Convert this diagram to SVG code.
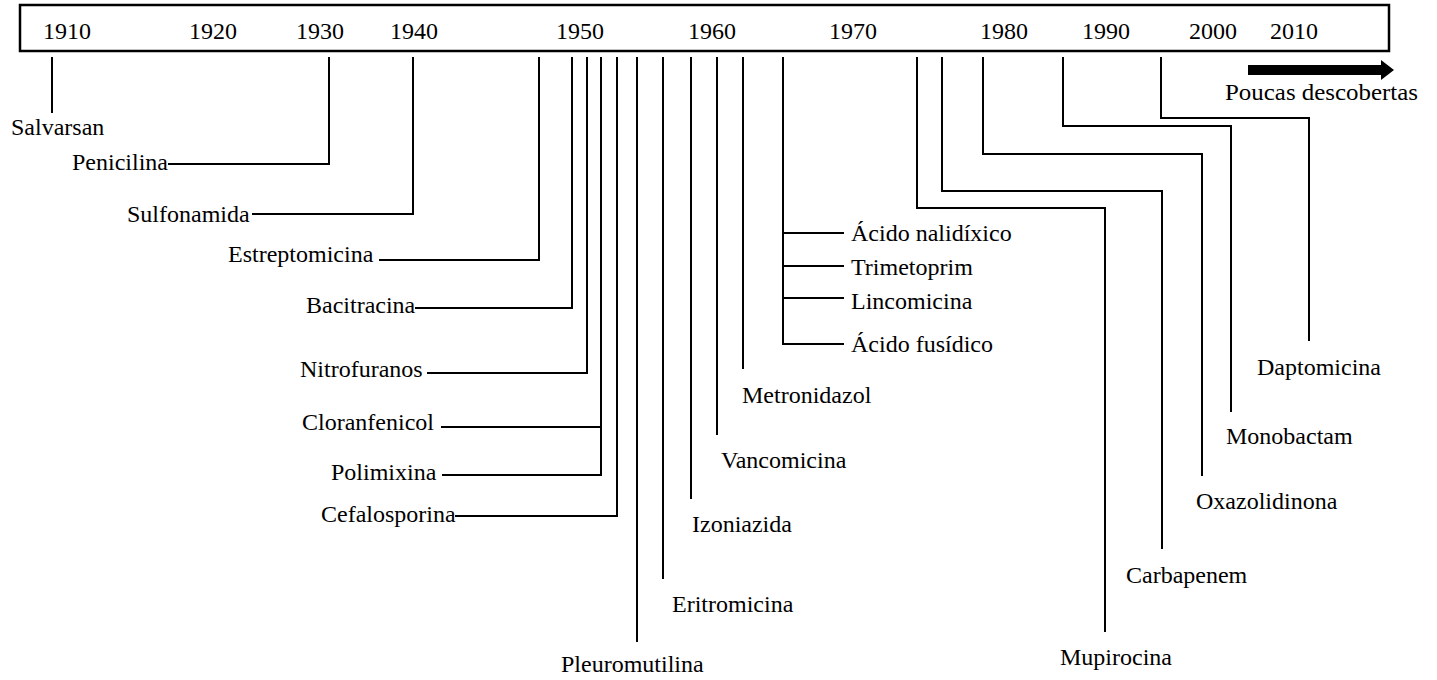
<svg xmlns="http://www.w3.org/2000/svg" width="1437" height="680" viewBox="0 0 1437 680">
<style>
text{font-family:'Liberation Serif','Times New Roman',serif;font-size:24px;fill:#000}
.c{fill:none;stroke:#000;stroke-width:2}
</style>
<rect width="1437" height="680" fill="#fff"/>
<g id="axis">
<rect x="20" y="5" width="1369" height="46" fill="#fff" stroke="#000" stroke-width="2.5"/>
<text x="43" y="39">1910</text>
<text x="189" y="39">1920</text>
<text x="296" y="39">1930</text>
<text x="390" y="39">1940</text>
<text x="556" y="39">1950</text>
<text x="688" y="39">1960</text>
<text x="829" y="39">1970</text>
<text x="980" y="39">1980</text>
<text x="1082" y="39">1990</text>
<text x="1189" y="39">2000</text>
<text x="1270" y="39">2010</text>
</g>
<g id="arrow">
<rect x="1248" y="65" width="135" height="10" fill="#000"/>
<polygon points="1381,60 1394,70 1381,80" fill="#000"/>
<text x="1225" y="100" textLength="193" lengthAdjust="spacingAndGlyphs">Poucas descobertas</text>
</g>
<g id="connectors">
<polyline class="c" points="52,57 52,113"/>
<polyline class="c" points="329,57 329,164 168,164"/>
<polyline class="c" points="413,57 413,214 252,214"/>
<polyline class="c" points="539,57 539,260 379,260"/>
<polyline class="c" points="572,57 572,308 415,308"/>
<polyline class="c" points="587,57 587,373 427,373"/>
<polyline class="c" points="601,57 601,475 442,475"/>
<polyline class="c" points="601,427 441,427"/>
<polyline class="c" points="617,57 617,516 455,516"/>
<polyline class="c" points="637,57 637,642"/>
<polyline class="c" points="663,57 663,579"/>
<polyline class="c" points="691,57 691,499"/>
<polyline class="c" points="717,57 717,435"/>
<polyline class="c" points="743,57 743,369"/>
<polyline class="c" points="783,57 783,344 844,344"/>
<polyline class="c" points="783,233 844,233"/>
<polyline class="c" points="783,266 844,266"/>
<polyline class="c" points="783,298 844,298"/>
<polyline class="c" points="917,57 917,208 1105,208 1105,632"/>
<polyline class="c" points="942,57 942,191 1162,191 1162,549"/>
<polyline class="c" points="983,57 983,154 1202,154 1202,476"/>
<polyline class="c" points="1063,57 1063,126 1231,126 1231,412"/>
<polyline class="c" points="1161,57 1161,118 1309,118 1309,341"/>
</g>
<g id="salvarsan"><text x="11" y="135">Salvarsan</text></g>
<g id="penicilina"><text x="72" y="170">Penicilina</text></g>
<g id="sulfonamida"><text x="127" y="222">Sulfonamida</text></g>
<g id="estreptomicina"><text x="228" y="262">Estreptomicina</text></g>
<g id="bacitracina"><text x="306" y="313">Bacitracina</text></g>
<g id="nitrofuranos"><text x="300" y="377">Nitrofuranos</text></g>
<g id="cloranfenicol"><text x="302" y="430">Cloranfenicol</text></g>
<g id="polimixina"><text x="331" y="480">Polimixina</text></g>
<g id="cefalosporina"><text x="321" y="522">Cefalosporina</text></g>
<g id="pleuromutilina"><text x="561" y="672">Pleuromutilina</text></g>
<g id="eritromicina"><text x="672" y="612">Eritromicina</text></g>
<g id="izoniazida"><text x="692" y="532">Izoniazida</text></g>
<g id="vancomicina"><text x="721" y="468">Vancomicina</text></g>
<g id="metronidazol"><text x="742" y="403">Metronidazol</text></g>
<g id="acido-nalidixico"><text x="851" y="241">Ácido nalidíxico</text></g>
<g id="trimetoprim"><text x="851" y="275">Trimetoprim</text></g>
<g id="lincomicina"><text x="851" y="309">Lincomicina</text></g>
<g id="acido-fusidico"><text x="851" y="352">Ácido fusídico</text></g>
<g id="mupirocina"><text x="1060" y="665">Mupirocina</text></g>
<g id="carbapenem"><text x="1126" y="583">Carbapenem</text></g>
<g id="oxazolidinona"><text x="1196" y="509">Oxazolidinona</text></g>
<g id="monobactam"><text x="1226" y="444">Monobactam</text></g>
<g id="daptomicina"><text x="1257" y="375">Daptomicina</text></g>
</svg>
